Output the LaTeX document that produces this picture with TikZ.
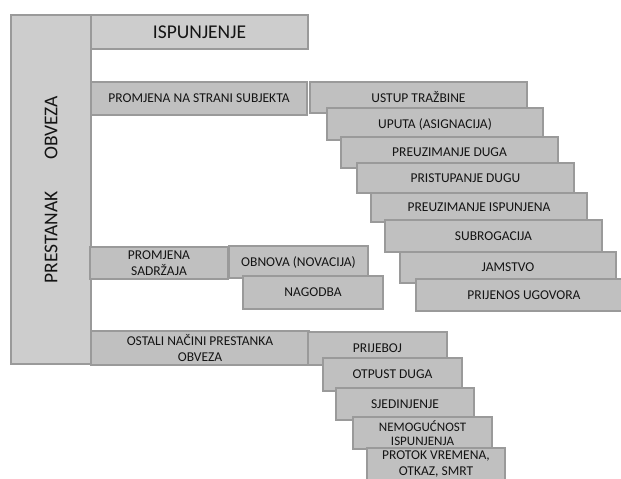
\documentclass[tikz,border=0pt]{standalone}
\usepackage{fontspec}
\setmainfont{Carlito}
\usepackage{tikz}

\definecolor{blokfill}{HTML}{C0C0C0}
\definecolor{glavnifill}{HTML}{CDCDCD}
\definecolor{rub}{HTML}{9A9A9A}
\definecolor{tekst}{HTML}{141414}

\tikzset{
  blok/.style={draw=rub, line width=1.2pt, fill=blokfill, inner sep=0pt,
    text=tekst, align=center, font=\fontsize{13.5}{16}\selectfont},
  glavni/.style={blok, fill=glavnifill, font=\fontsize{19.5}{22}\selectfont},
}

\begin{document}
\begin{tikzpicture}[x=1pt,y=-1pt]
 \useasboundingbox (0,0) rectangle (621,479);
 \clip (0,0) rectangle (621,479);
%    glavni stupac
 \node[glavni, rotate=90, minimum width=349pt, minimum height=80pt] (prestanak) at (51,189.5)
   {PRESTANAK\hspace{1.6em}OBVEZA};
 \node[glavni, minimum width=217pt, minimum height=34pt] (ispunjenje) at (199.5,32) {ISPUNJENJE};
%    promjena na strani subjekta
 \node[blok, minimum width=216pt, minimum height=33pt] (subjekt) at (199,98.5) {PROMJENA NA STRANI SUBJEKTA};
 \node[blok, minimum width=217pt, minimum height=31pt] (ustup) at (418.5,97.5) {USTUP TRAŽBINE};
 \node[blok, minimum width=216pt, minimum height=32pt] (uputa) at (435,124) {UPUTA (ASIGNACIJA)};
 \node[blok, minimum width=217pt, minimum height=31pt] (preuzdug) at (449.5,152.5) {PREUZIMANJE DUGA};
 \node[blok, minimum width=217pt, minimum height=30pt] (pristup) at (465.5,178) {PRISTUPANJE DUGU};
 \node[blok, minimum width=216pt, minimum height=29pt] (preuzisp) at (479,207.5) {PREUZIMANJE ISPUNJENA};
 \node[blok, minimum width=217pt, minimum height=32pt] (subrog) at (493.5,236) {SUBROGACIJA};
 \node[blok, minimum width=216pt, minimum height=31pt] (jamstvo) at (508,267.5) {JAMSTVO};
 \node[blok, minimum width=216pt, minimum height=32pt] (prijenos) at (524,295) {PRIJENOS UGOVORA};
%    promjena sadrzaja
 \node[blok, minimum width=138pt, minimum height=32pt] (sadrzaj) at (159,263) {PROMJENA\\SADRŽAJA};
 \node[blok, minimum width=139pt, minimum height=32pt] (obnova) at (298.5,262) {OBNOVA (NOVACIJA)};
 \node[blok, minimum width=140pt, minimum height=33pt] (nagodba) at (313,292.5) {NAGODBA};
%    ostali nacini
 \node[blok, minimum width=218pt, minimum height=34pt] (ostali) at (200,348) {OSTALI NAČINI PRESTANKA\\OBVEZA};
 \node[blok, minimum width=139pt, minimum height=33pt] (prijeboj) at (377.5,348.5) {PRIJEBOJ};
 \node[blok, minimum width=139pt, minimum height=33pt] (otpust) at (392.5,374.5) {OTPUST DUGA};
 \node[blok, minimum width=138pt, minimum height=32pt] (sjedinjenje) at (405,404) {SJEDINJENJE};
 \node[blok, minimum width=139pt, minimum height=32pt, font=\fontsize{13}{13.5}\selectfont] (nemogucnost) at (422.5,433) {NEMOGUĆNOST\\ISPUNJENJA};
 \node[blok, minimum width=138pt, minimum height=32pt] (protok) at (436,464) {PROTOK VREMENA,\\OTKAZ, SMRT};
\end{tikzpicture}
\end{document}
